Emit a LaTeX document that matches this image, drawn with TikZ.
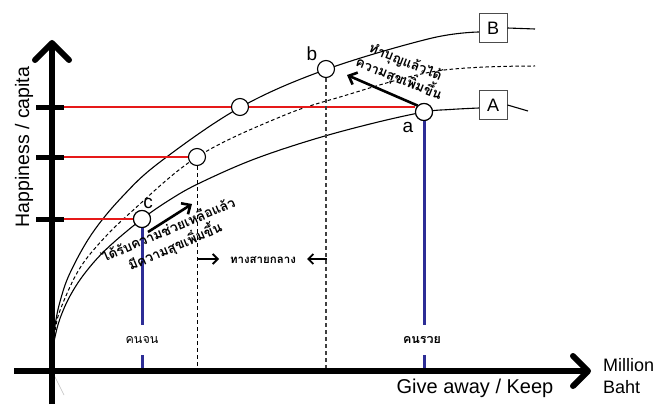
\documentclass[tikz,border=0pt]{standalone}
\usepackage{fontspec}
\setmainfont{Liberation Sans}
\newfontfamily\thai[Script=Thai]{Loma}
\usetikzlibrary{arrows.meta,calc}
\definecolor{myblue}{RGB}{45,45,150}
\definecolor{myred}{RGB}{230,25,25}
\begin{document}
\begin{tikzpicture}[x=1pt,y=-1pt,
  axis/.style={line width=6pt},
  axhead/.style={line width=6pt,line cap=round,line join=round},
  tickmark/.style={line width=5pt},
  curve/.style={line width=1.1pt},
  dcurve/.style={line width=1pt,dash pattern=on 3.5pt off 2.5pt},
  vdash/.style={line width=1pt,dash pattern=on 4pt off 3pt},
  redl/.style={draw=myred,line width=1.6pt},
  bluel/.style={draw=myblue,line width=3pt},
  pt/.style={circle,draw,fill=white,line width=1.1pt,minimum size=17pt,inner sep=0pt},
  lbox/.style={draw=black!70,line width=1pt,minimum width=28pt,minimum height=29pt,inner sep=0pt,font=\fontsize{18}{18}\selectfont},
  letter/.style={inner sep=0pt,font=\fontsize{19}{19}\selectfont},
  thaibold/.style={font=\thai\bfseries\fontsize{13.5}{18}\selectfont,align=center,inner sep=0pt},
  thailbl/.style={font=\thai\fontsize{12.5}{12.5}\selectfont,inner sep=0pt,minimum height=30pt},
  bigarrow/.style={line width=2.6pt,-{Straight Barb[length=7pt,width=13pt]}},
  midarrow/.style={line width=1.8pt,-{Straight Barb[length=5pt,width=10pt]}},
]
\useasboundingbox (0,0) rectangle (666,404);
\fill[white] (0,0) rectangle (666,404);

% coordinates
\coordinate (O) at (52,371);
\coordinate (t1) at (52,107);
\coordinate (t2) at (52,157);
\coordinate (t3) at (52,219);

% faint line below origin
\draw[black!25,line width=0.6pt] (53,373) -- (64,395);

% curves
\draw[curve] plot[smooth,tension=0.6] coordinates {(52,372) (53,342.6) (55,325.4) (60,301.6) (70,273) (92,233.6) (122,197) (160,162) (240,107.5) (326,69.5) (430,38.5) (479,32)};
\draw[curve] plot[smooth,tension=0.6] coordinates {(52,372) (53,350.3) (55,337) (60,318.5) (70,296) (85,273) (107,248.5) (142,219) (172,198.4) (200,182.9) (252,160) (312,139.8) (372,123.5) (424,112) (450,109.5) (479,108)};
\draw[dcurve] plot[smooth,tension=0.6] coordinates {(52,372) (53,346) (55,331) (60,310.5) (77,273) (97,246) (130,213) (197,157) (280,117) (340,97) (437,71) (535,66)};

% boxes
\node[lbox] (B) at (493,28) {B};
\node[lbox] (A) at (493,105) {A};
\coordinate (Bend) at (535,29);
\coordinate (Aend) at (528,111);
\draw[curve] (B.east) -- (Bend);
\draw[curve] (A.east) -- (Aend);

% points
\node[pt] (p1) at (240,107) {};
\node[pt] (m) at (197,157) {};
\node[pt] (c) at (142,219) {};
\node[pt] (b) at (326,69) {};
\node[pt] (a) at (424,112) {};

% red lines
\draw[draw=myred,line width=1.1pt] (64,107) -- (p1.west);
\draw[draw=myred,line width=1.1pt] (p1.east) -- (a.west |- t1);
\draw[redl] (64,157) -- (m.west);
\draw[redl] (64,219) -- (c.west);

% dashed verticals
\draw[vdash] (m.south) -- (m |- O);
\draw[vdash,draw=black!75,line width=1.3pt] (b.south) -- (b |- O);

% blue lines with labels
\node[thailbl] (poor) at (142,340) {คนจน};
\node[thailbl,font=\thai\bfseries\fontsize{12.5}{12.5}\selectfont] (rich) at (422,340) {คนรวย};
\draw[bluel] (c.south) -- (c |- poor.north);
\draw[bluel] (c |- poor.south) -- (c |- O);
\draw[bluel] (a.south) -- (a |- rich.north);
\draw[bluel] (a |- rich.south) -- (a |- O);
\node[pt] at (c) {};
\node[pt] at (a) {};

% letters
\node[letter] (lb) at (312,54) {b};
\node[letter] (la) at (408,127) {a};
\node[letter] (lc) at (148,203) {c};

% annotations
\node[thaibold,rotate=-22] (t_b) at (402,71) {ทำบุญแล้วได้\\ความสุขเพิ่มขึ้น};
\coordinate (tipb) at (347,75);
\draw[bigarrow] (a.north west) -- (tipb);

\node[thaibold,rotate=23] (t_c) at (172,239) {ได้รับความช่วยเหลือแล้ว\\มีความสุขเพิ่มขึ้น};
\coordinate (cs) at (148,232);
\coordinate (tipc) at (192,204);
\draw[bigarrow] (cs) -- (tipc);

\node[font=\thai\bfseries\fontsize{11.5}{12}\selectfont,inner sep=0pt] (mid) at (263,260) {ทางสายกลาง};
\coordinate (r1) at (198,259);
\coordinate (r2) at (219,259);
\coordinate (l1) at (327,259);
\coordinate (l2) at (307,259);
\draw[midarrow] (r1) -- (r2);
\draw[midarrow] (l1) -- (l2);

% axes
\coordinate (xs) at (14,371);
\coordinate (xe) at (586,371);
\coordinate (ys) at (52,404);
\coordinate (ye) at (52,46);
\draw[axis] (xs) -- (xe);
\draw[axis] (ys) -- (ye);
\draw[axhead] (573,356) -- (588,371) -- (573,386);
\draw[axhead] (35,60) -- (52,43) -- (69,60);
\draw[tickmark] (36,107) -- (64,107);
\draw[tickmark] (36,157) -- (64,157);
\draw[tickmark] (36,219) -- (64,219);

% axis labels
\node[rotate=90,inner sep=0pt,font=\fontsize{19.5}{20}\selectfont] (ylab) at (24,147) {Happiness / capita};
\node[anchor=base,inner sep=0pt,font=\fontsize{20}{20}\selectfont] (xlab) at (475,393) {Give away / Keep};
\node[anchor=west,inner sep=0pt,font=\fontsize{18}{18}\selectfont] (mil) at (603,365) {Million};
\node[anchor=west,inner sep=0pt,font=\fontsize{18}{18}\selectfont] (baht) at (603,387) {Baht};
\end{tikzpicture}
\end{document}
